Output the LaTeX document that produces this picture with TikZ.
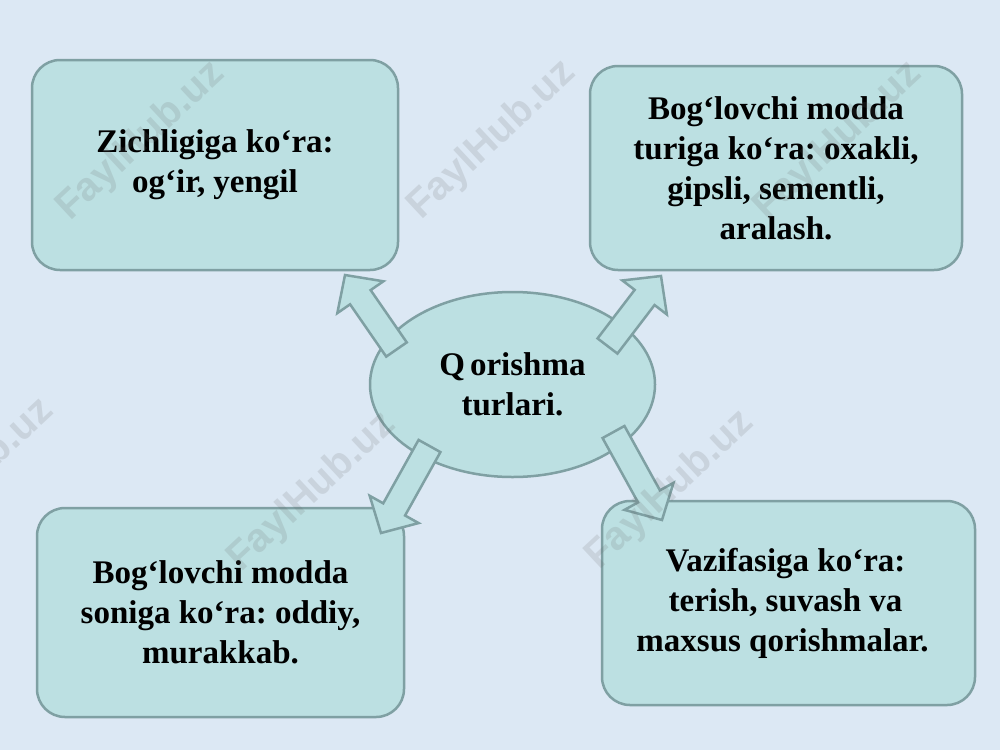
\documentclass[tikz,border=0pt]{standalone}
\usepackage{fontspec}
\setmainfont{Liberation Serif}
\newfontfamily\wmfont{Liberation Sans}
\usetikzlibrary{calc,shapes.geometric}
\frenchspacing
\definecolor{bgblue}{HTML}{DCE8F4}
\definecolor{boxfill}{HTML}{BCE0E2}
\definecolor{boxline}{HTML}{7FA0A3}
\tikzset{
  card/.style={draw=boxline, line width=2.5pt, fill=boxfill, rounded corners=28pt,
    inner sep=0pt, align=center, font=\bfseries\fontsize{33}{40}\selectfont},
  hub/.style={ellipse, draw=boxline, line width=2.5pt, fill=boxfill, inner sep=0pt,
    align=center, font=\bfseries\fontsize{33}{40}\selectfont},
  blockarr/.style={draw=boxline, line width=2.5pt, fill=boxfill, line join=miter},
  wmark/.style={rotate=43, font=\wmfont\bfseries\fontsize{40}{40}\selectfont,
    text=gray!80!black, text opacity=0.16, inner sep=0pt}
}
\newcommand\blkarrow[3]{% tail, tip, name of head-base coordinate
  \coordinate (#3) at ($(#2)!27pt!(#1)$);
  \draw[blockarr] ($(#1)!12.5pt!90:(#2)$) -- ($(#3)!12.5pt!-90:(#1)$)
     -- ($(#3)!28pt!-90:(#1)$) -- (#2) -- ($(#3)!28pt!90:(#1)$)
     -- ($(#3)!12.5pt!90:(#1)$) -- ($(#1)!12.5pt!-90:(#2)$) -- cycle;
}
\begin{document}
\begin{tikzpicture}[x=1pt, y=-1pt]
  \useasboundingbox (0,0) rectangle (1000,750);
  \clip (0,0) rectangle (1000,750);
  \fill[bgblue] (0,0) rectangle (1000,750);

  % boxes
  \node[card, minimum width=366pt, minimum height=210pt] (tl) at (215,165)
    {Zichligiga ko‘ra:\\og‘ir, yengil};
  \node[card, minimum width=372pt, minimum height=204pt] (tr) at (776,168)
    {Bog‘lovchi modda\\turiga ko‘ra: oxakli,\\gipsli, sementli,\\aralash.};
  \node[card, minimum width=367pt, minimum height=209pt] (bl) at (220.5,612.5)
    {Bog‘lovchi modda\\soniga ko‘ra: oddiy,\\murakkab.};
  \node[card, minimum width=373pt, minimum height=204pt] (br) at (788.5,603)
    {\hspace*{-6pt}Vazifasiga ko‘ra:\\\hspace*{-6pt}terish, suvash va\\\hspace*{-12pt}maxsus qorishmalar.};

  % centre
  \node[hub, minimum width=285pt, minimum height=185pt] (c) at (512.5,384.5)
    {Q\kern5pt orishma\\turlari.};

  % arrow ends
  \coordinate (t1) at (396.5,349.5); \coordinate (h1) at (345,275);
  \coordinate (t2) at (607.5,346);   \coordinate (h2) at (661,276);
  \coordinate (t3) at (429.5,446);   \coordinate (h3) at (381,533);
  \coordinate (t4) at (613.5,432);   \coordinate (h4) at (662,520);
  \blkarrow{t1}{h1}{b1}
  \blkarrow{t2}{h2}{b2}
  \blkarrow{t3}{h3}{b3}
  \blkarrow{t4}{h4}{b4}

  % watermarks
  \node[wmark] (wm1) at (141,141) {FaylHub.uz};
  \node[wmark] (wm2) at (492,140) {FaylHub.uz};
  \node[wmark] (wm3) at (838,141) {FaylHub.uz};
  \node[wmark] (wm4) at (-30,478) {FaylHub.uz};
  \node[wmark] (wm5) at (312,492) {FaylHub.uz};
  \node[wmark] (wm6) at (670,490) {FaylHub.uz};
\end{tikzpicture}
\end{document}
